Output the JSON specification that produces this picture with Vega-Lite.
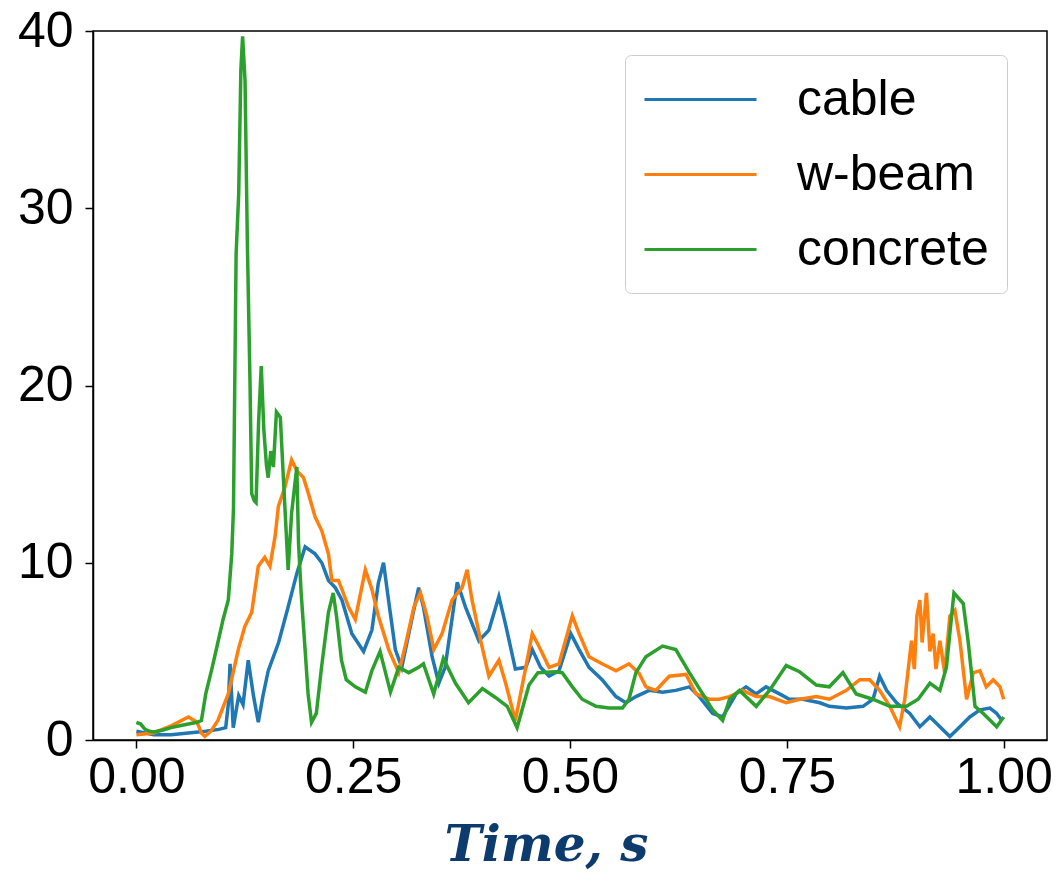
{
  "$schema": "https://vega.github.io/schema/vega-lite/v6.json",
  "width": 954,
  "height": 709,
  "autosize": {"type": "none"},
  "padding": {"left": 93, "top": 31, "right": 11, "bottom": 135},
  "background": "white",
  "config": {
    "view": {"stroke": "black", "strokeWidth": 1.5},
    "axis": {"labelFont": "Liberation Sans", "labelFontSize": 50, "labelColor": "black", "tickColor": "black", "domainColor": "black", "domainWidth": 1.5, "tickWidth": 1.5, "tickSize": 8, "grid": false}
  },
  "data": {"values": [
    {"t":0.000,"v":0.5,"s":"cable"},{"t":0.02,"v":0.3,"s":"cable"},{"t":0.04,"v":0.3,"s":"cable"},{"t":0.06,"v":0.4,"s":"cable"},{"t":0.08,"v":0.5,"s":"cable"},{"t":0.095,"v":0.6,"s":"cable"},{"t":0.103,"v":0.7,"s":"cable"},{"t":0.106,"v":2.0,"s":"cable"},{"t":0.108,"v":4.3,"s":"cable"},{"t":0.1117,"v":0.7,"s":"cable"},{"t":0.118,"v":2.5,"s":"cable"},{"t":0.123,"v":2.0,"s":"cable"},{"t":0.129,"v":4.5,"s":"cable"},{"t":0.135,"v":2.5,"s":"cable"},{"t":0.1406,"v":1.0,"s":"cable"},{"t":0.146,"v":2.5,"s":"cable"},{"t":0.152,"v":3.9,"s":"cable"},{"t":0.164,"v":5.5,"s":"cable"},{"t":0.175,"v":7.5,"s":"cable"},{"t":0.185,"v":9.4,"s":"cable"},{"t":0.1946,"v":10.9,"s":"cable"},{"t":0.206,"v":10.5,"s":"cable"},{"t":0.2138,"v":10.0,"s":"cable"},{"t":0.2215,"v":9.0,"s":"cable"},{"t":0.2293,"v":8.6,"s":"cable"},{"t":0.237,"v":7.9,"s":"cable"},{"t":0.2485,"v":6.0,"s":"cable"},{"t":0.262,"v":5.0,"s":"cable"},{"t":0.2716,"v":6.2,"s":"cable"},{"t":0.279,"v":8.85,"s":"cable"},{"t":0.285,"v":10.0,"s":"cable"},{"t":0.291,"v":7.8,"s":"cable"},{"t":0.2986,"v":5.1,"s":"cable"},{"t":0.306,"v":4.1,"s":"cable"},{"t":0.318,"v":6.9,"s":"cable"},{"t":0.3255,"v":8.6,"s":"cable"},{"t":0.331,"v":7.5,"s":"cable"},{"t":0.341,"v":4.7,"s":"cable"},{"t":0.3487,"v":3.2,"s":"cable"},{"t":0.356,"v":4.1,"s":"cable"},{"t":0.370,"v":8.9,"s":"cable"},{"t":0.3795,"v":7.5,"s":"cable"},{"t":0.395,"v":5.6,"s":"cable"},{"t":0.4065,"v":6.2,"s":"cable"},{"t":0.418,"v":8.1,"s":"cable"},{"t":0.4258,"v":6.5,"s":"cable"},{"t":0.437,"v":4.0,"s":"cable"},{"t":0.449,"v":4.1,"s":"cable"},{"t":0.4565,"v":5.1,"s":"cable"},{"t":0.466,"v":4.1,"s":"cable"},{"t":0.4758,"v":3.6,"s":"cable"},{"t":0.4873,"v":3.9,"s":"cable"},{"t":0.5009,"v":6.0,"s":"cable"},{"t":0.5105,"v":5.1,"s":"cable"},{"t":0.522,"v":4.1,"s":"cable"},{"t":0.537,"v":3.4,"s":"cable"},{"t":0.553,"v":2.45,"s":"cable"},{"t":0.5644,"v":2.1,"s":"cable"},{"t":0.576,"v":2.45,"s":"cable"},{"t":0.5914,"v":2.8,"s":"cable"},{"t":0.6067,"v":2.7,"s":"cable"},{"t":0.622,"v":2.8,"s":"cable"},{"t":0.6376,"v":3.0,"s":"cable"},{"t":0.649,"v":2.45,"s":"cable"},{"t":0.6645,"v":1.5,"s":"cable"},{"t":0.676,"v":1.3,"s":"cable"},{"t":0.6916,"v":2.6,"s":"cable"},{"t":0.703,"v":3.0,"s":"cable"},{"t":0.7147,"v":2.6,"s":"cable"},{"t":0.726,"v":3.0,"s":"cable"},{"t":0.7416,"v":2.6,"s":"cable"},{"t":0.753,"v":2.3,"s":"cable"},{"t":0.7685,"v":2.3,"s":"cable"},{"t":0.788,"v":2.1,"s":"cable"},{"t":0.799,"v":1.9,"s":"cable"},{"t":0.8187,"v":1.8,"s":"cable"},{"t":0.8379,"v":1.9,"s":"cable"},{"t":0.8494,"v":2.3,"s":"cable"},{"t":0.857,"v":3.6,"s":"cable"},{"t":0.865,"v":2.8,"s":"cable"},{"t":0.8765,"v":2.1,"s":"cable"},{"t":0.8918,"v":1.5,"s":"cable"},{"t":0.9034,"v":0.75,"s":"cable"},{"t":0.915,"v":1.3,"s":"cable"},{"t":0.9265,"v":0.75,"s":"cable"},{"t":0.938,"v":0.2,"s":"cable"},{"t":0.9496,"v":0.75,"s":"cable"},{"t":0.961,"v":1.3,"s":"cable"},{"t":0.9727,"v":1.7,"s":"cable"},{"t":0.9842,"v":1.8,"s":"cable"},{"t":0.992,"v":1.5,"s":"cable"},{"t":0.998,"v":1.1,"s":"cable"},

    {"t":0.000,"v":0.3,"s":"w-beam"},{"t":0.02,"v":0.4,"s":"w-beam"},{"t":0.04,"v":0.8,"s":"w-beam"},{"t":0.06,"v":1.3,"s":"w-beam"},{"t":0.07,"v":1.0,"s":"w-beam"},{"t":0.075,"v":0.4,"s":"w-beam"},{"t":0.079,"v":0.2,"s":"w-beam"},{"t":0.086,"v":0.5,"s":"w-beam"},{"t":0.094,"v":1.1,"s":"w-beam"},{"t":0.106,"v":2.6,"s":"w-beam"},{"t":0.1175,"v":5.1,"s":"w-beam"},{"t":0.125,"v":6.4,"s":"w-beam"},{"t":0.133,"v":7.2,"s":"w-beam"},{"t":0.1406,"v":9.8,"s":"w-beam"},{"t":0.148,"v":10.3,"s":"w-beam"},{"t":0.154,"v":9.8,"s":"w-beam"},{"t":0.160,"v":11.5,"s":"w-beam"},{"t":0.1638,"v":13.2,"s":"w-beam"},{"t":0.1715,"v":14.3,"s":"w-beam"},{"t":0.179,"v":15.8,"s":"w-beam"},{"t":0.185,"v":15.2,"s":"w-beam"},{"t":0.1927,"v":14.8,"s":"w-beam"},{"t":0.1984,"v":13.9,"s":"w-beam"},{"t":0.206,"v":12.6,"s":"w-beam"},{"t":0.2138,"v":11.8,"s":"w-beam"},{"t":0.2215,"v":10.5,"s":"w-beam"},{"t":0.2254,"v":9.0,"s":"w-beam"},{"t":0.233,"v":9.0,"s":"w-beam"},{"t":0.237,"v":8.5,"s":"w-beam"},{"t":0.2447,"v":7.5,"s":"w-beam"},{"t":0.2524,"v":6.8,"s":"w-beam"},{"t":0.264,"v":9.6,"s":"w-beam"},{"t":0.2716,"v":8.5,"s":"w-beam"},{"t":0.279,"v":7.0,"s":"w-beam"},{"t":0.291,"v":5.1,"s":"w-beam"},{"t":0.3025,"v":3.8,"s":"w-beam"},{"t":0.310,"v":5.3,"s":"w-beam"},{"t":0.320,"v":7.5,"s":"w-beam"},{"t":0.3275,"v":8.3,"s":"w-beam"},{"t":0.335,"v":7.0,"s":"w-beam"},{"t":0.343,"v":5.1,"s":"w-beam"},{"t":0.3525,"v":6.0,"s":"w-beam"},{"t":0.364,"v":7.9,"s":"w-beam"},{"t":0.3756,"v":8.6,"s":"w-beam"},{"t":0.3814,"v":9.6,"s":"w-beam"},{"t":0.387,"v":7.9,"s":"w-beam"},{"t":0.397,"v":5.6,"s":"w-beam"},{"t":0.4065,"v":3.6,"s":"w-beam"},{"t":0.418,"v":4.5,"s":"w-beam"},{"t":0.4258,"v":3.2,"s":"w-beam"},{"t":0.437,"v":1.1,"s":"w-beam"},{"t":0.449,"v":4.1,"s":"w-beam"},{"t":0.4565,"v":6.0,"s":"w-beam"},{"t":0.464,"v":5.3,"s":"w-beam"},{"t":0.4758,"v":4.1,"s":"w-beam"},{"t":0.4873,"v":4.3,"s":"w-beam"},{"t":0.497,"v":6.0,"s":"w-beam"},{"t":0.5027,"v":7.0,"s":"w-beam"},{"t":0.5105,"v":6.0,"s":"w-beam"},{"t":0.522,"v":4.7,"s":"w-beam"},{"t":0.537,"v":4.3,"s":"w-beam"},{"t":0.553,"v":3.9,"s":"w-beam"},{"t":0.568,"v":4.3,"s":"w-beam"},{"t":0.5798,"v":3.75,"s":"w-beam"},{"t":0.5875,"v":3.0,"s":"w-beam"},{"t":0.599,"v":2.8,"s":"w-beam"},{"t":0.6144,"v":3.6,"s":"w-beam"},{"t":0.6338,"v":3.7,"s":"w-beam"},{"t":0.6453,"v":2.6,"s":"w-beam"},{"t":0.6607,"v":2.3,"s":"w-beam"},{"t":0.672,"v":2.3,"s":"w-beam"},{"t":0.6838,"v":2.45,"s":"w-beam"},{"t":0.699,"v":2.8,"s":"w-beam"},{"t":0.7147,"v":2.45,"s":"w-beam"},{"t":0.730,"v":2.45,"s":"w-beam"},{"t":0.7493,"v":2.1,"s":"w-beam"},{"t":0.765,"v":2.3,"s":"w-beam"},{"t":0.784,"v":2.45,"s":"w-beam"},{"t":0.799,"v":2.3,"s":"w-beam"},{"t":0.8187,"v":2.8,"s":"w-beam"},{"t":0.834,"v":3.4,"s":"w-beam"},{"t":0.8456,"v":3.4,"s":"w-beam"},{"t":0.857,"v":2.8,"s":"w-beam"},{"t":0.8687,"v":1.9,"s":"w-beam"},{"t":0.880,"v":0.75,"s":"w-beam"},{"t":0.886,"v":2.3,"s":"w-beam"},{"t":0.890,"v":4.0,"s":"w-beam"},{"t":0.8938,"v":5.6,"s":"w-beam"},{"t":0.897,"v":4.0,"s":"w-beam"},{"t":0.900,"v":7.0,"s":"w-beam"},{"t":0.9034,"v":7.9,"s":"w-beam"},{"t":0.906,"v":5.5,"s":"w-beam"},{"t":0.911,"v":8.3,"s":"w-beam"},{"t":0.915,"v":5.0,"s":"w-beam"},{"t":0.9187,"v":6.0,"s":"w-beam"},{"t":0.922,"v":4.0,"s":"w-beam"},{"t":0.9265,"v":5.6,"s":"w-beam"},{"t":0.932,"v":3.8,"s":"w-beam"},{"t":0.938,"v":7.0,"s":"w-beam"},{"t":0.9438,"v":7.3,"s":"w-beam"},{"t":0.9496,"v":5.6,"s":"w-beam"},{"t":0.9573,"v":2.3,"s":"w-beam"},{"t":0.965,"v":3.8,"s":"w-beam"},{"t":0.9727,"v":3.9,"s":"w-beam"},{"t":0.980,"v":3.0,"s":"w-beam"},{"t":0.988,"v":3.4,"s":"w-beam"},{"t":0.9958,"v":3.0,"s":"w-beam"},{"t":1.0,"v":2.3,"s":"w-beam"},

    {"t":0.000,"v":1.0,"s":"concrete"},{"t":0.005,"v":0.9,"s":"concrete"},{"t":0.010,"v":0.6,"s":"concrete"},{"t":0.015,"v":0.5,"s":"concrete"},{"t":0.020,"v":0.45,"s":"concrete"},{"t":0.030,"v":0.55,"s":"concrete"},{"t":0.040,"v":0.7,"s":"concrete"},{"t":0.050,"v":0.8,"s":"concrete"},{"t":0.060,"v":0.9,"s":"concrete"},{"t":0.070,"v":1.0,"s":"concrete"},{"t":0.075,"v":1.1,"s":"concrete"},{"t":0.080,"v":2.6,"s":"concrete"},{"t":0.087,"v":4.0,"s":"concrete"},{"t":0.094,"v":5.5,"s":"concrete"},{"t":0.100,"v":6.8,"s":"concrete"},{"t":0.106,"v":7.9,"s":"concrete"},{"t":0.110,"v":10.5,"s":"concrete"},{"t":0.112,"v":13.1,"s":"concrete"},{"t":0.115,"v":27.4,"s":"concrete"},{"t":0.118,"v":30.8,"s":"concrete"},{"t":0.1205,"v":37.8,"s":"concrete"},{"t":0.1225,"v":39.7,"s":"concrete"},{"t":0.1253,"v":37.2,"s":"concrete"},{"t":0.128,"v":28.0,"s":"concrete"},{"t":0.131,"v":20.3,"s":"concrete"},{"t":0.133,"v":13.9,"s":"concrete"},{"t":0.136,"v":13.5,"s":"concrete"},{"t":0.138,"v":13.4,"s":"concrete"},{"t":0.141,"v":18.0,"s":"concrete"},{"t":0.144,"v":21.1,"s":"concrete"},{"t":0.147,"v":17.5,"s":"concrete"},{"t":0.150,"v":15.5,"s":"concrete"},{"t":0.152,"v":14.8,"s":"concrete"},{"t":0.155,"v":16.3,"s":"concrete"},{"t":0.158,"v":15.4,"s":"concrete"},{"t":0.1615,"v":18.5,"s":"concrete"},{"t":0.166,"v":18.2,"s":"concrete"},{"t":0.1695,"v":14.8,"s":"concrete"},{"t":0.175,"v":9.6,"s":"concrete"},{"t":0.179,"v":12.8,"s":"concrete"},{"t":0.185,"v":15.4,"s":"concrete"},{"t":0.187,"v":11.1,"s":"concrete"},{"t":0.190,"v":8.3,"s":"concrete"},{"t":0.194,"v":5.5,"s":"concrete"},{"t":0.198,"v":2.6,"s":"concrete"},{"t":0.202,"v":1.0,"s":"concrete"},{"t":0.2075,"v":1.5,"s":"concrete"},{"t":0.2135,"v":4.1,"s":"concrete"},{"t":0.2215,"v":7.2,"s":"concrete"},{"t":0.227,"v":8.3,"s":"concrete"},{"t":0.231,"v":6.9,"s":"concrete"},{"t":0.2365,"v":4.5,"s":"concrete"},{"t":0.242,"v":3.4,"s":"concrete"},{"t":0.2525,"v":3.0,"s":"concrete"},{"t":0.264,"v":2.7,"s":"concrete"},{"t":0.2715,"v":3.9,"s":"concrete"},{"t":0.281,"v":5.0,"s":"concrete"},{"t":0.293,"v":2.7,"s":"concrete"},{"t":0.3025,"v":4.1,"s":"concrete"},{"t":0.314,"v":3.8,"s":"concrete"},{"t":0.3255,"v":4.1,"s":"concrete"},{"t":0.331,"v":4.3,"s":"concrete"},{"t":0.3428,"v":2.6,"s":"concrete"},{"t":0.354,"v":4.6,"s":"concrete"},{"t":0.368,"v":3.2,"s":"concrete"},{"t":0.383,"v":2.1,"s":"concrete"},{"t":0.399,"v":2.9,"s":"concrete"},{"t":0.414,"v":2.4,"s":"concrete"},{"t":0.4276,"v":1.9,"s":"concrete"},{"t":0.439,"v":0.7,"s":"concrete"},{"t":0.4527,"v":3.1,"s":"concrete"},{"t":0.463,"v":3.8,"s":"concrete"},{"t":0.4835,"v":3.85,"s":"concrete"},{"t":0.491,"v":3.8,"s":"concrete"},{"t":0.5027,"v":3.0,"s":"concrete"},{"t":0.514,"v":2.3,"s":"concrete"},{"t":0.530,"v":1.9,"s":"concrete"},{"t":0.545,"v":1.8,"s":"concrete"},{"t":0.5605,"v":1.8,"s":"concrete"},{"t":0.568,"v":2.3,"s":"concrete"},{"t":0.576,"v":3.8,"s":"concrete"},{"t":0.5875,"v":4.7,"s":"concrete"},{"t":0.6067,"v":5.3,"s":"concrete"},{"t":0.622,"v":5.1,"s":"concrete"},{"t":0.6376,"v":3.8,"s":"concrete"},{"t":0.653,"v":2.6,"s":"concrete"},{"t":0.6645,"v":1.7,"s":"concrete"},{"t":0.676,"v":1.1,"s":"concrete"},{"t":0.684,"v":2.3,"s":"concrete"},{"t":0.6954,"v":2.8,"s":"concrete"},{"t":0.7147,"v":1.9,"s":"concrete"},{"t":0.730,"v":2.8,"s":"concrete"},{"t":0.7493,"v":4.2,"s":"concrete"},{"t":0.7647,"v":3.85,"s":"concrete"},{"t":0.784,"v":3.1,"s":"concrete"},{"t":0.799,"v":3.0,"s":"concrete"},{"t":0.8147,"v":3.8,"s":"concrete"},{"t":0.830,"v":2.6,"s":"concrete"},{"t":0.849,"v":2.3,"s":"concrete"},{"t":0.8687,"v":1.9,"s":"concrete"},{"t":0.888,"v":1.9,"s":"concrete"},{"t":0.9014,"v":2.3,"s":"concrete"},{"t":0.915,"v":3.2,"s":"concrete"},{"t":0.9265,"v":2.8,"s":"concrete"},{"t":0.934,"v":4.1,"s":"concrete"},{"t":0.9427,"v":8.3,"s":"concrete"},{"t":0.9534,"v":7.7,"s":"concrete"},{"t":0.959,"v":5.6,"s":"concrete"},{"t":0.967,"v":1.9,"s":"concrete"},{"t":0.9765,"v":1.5,"s":"concrete"},{"t":0.992,"v":0.75,"s":"concrete"},{"t":1.0,"v":1.3,"s":"concrete"}
  ]},
  "encoding": {
    "x": {"field": "t", "type": "quantitative",
      "scale": {"domain": [-0.05, 1.05], "nice": false, "zero": false},
      "axis": {"values": [0, 0.25, 0.5, 0.75, 1], "format": ".2f", "labelPadding": 4,
        "title": "Time, s", "titleFont": "DejaVu Serif", "titleFontSize": 50, "titleFontWeight": "bold", "titleFontStyle": "italic", "titleColor": "#0d3b6e", "titlePadding": 18, "titleX": 453}},
    "y": {"field": "v", "type": "quantitative",
      "scale": {"domain": [0, 40], "nice": false},
      "axis": {"values": [0, 10, 20, 30, 40], "title": null, "labelPadding": 12}},
    "color": {"field": "s", "type": "nominal",
      "scale": {"domain": ["cable", "w-beam", "concrete"], "range": ["#1f77b4", "#ff7f0e", "#2ca02c"]},
      "legend": {"title": null, "orient": "none", "legendX": 532, "legendY": 24,
        "symbolType": "M-2.24,0H2.24", "symbolSize": 2500, "symbolStrokeWidth": 3, "symbolOffset": 31,
        "labelFont": "Liberation Sans", "labelFontSize": 50, "labelColor": "black", "labelOffset": 70, "labelLimit": 500,
        "rowPadding": 23, "padding": 18, "strokeColor": "#cccccc", "fillColor": "white", "cornerRadius": 6}}
  },
  "layer": [
    {"transform": [{"filter": "datum.s === 'cable'"}], "mark": {"type": "line", "strokeWidth": 3.5}},
    {"transform": [{"filter": "datum.s === 'w-beam'"}], "mark": {"type": "line", "strokeWidth": 3.5}},
    {"transform": [{"filter": "datum.s === 'concrete'"}], "mark": {"type": "line", "strokeWidth": 3.5}}
  ]
}
